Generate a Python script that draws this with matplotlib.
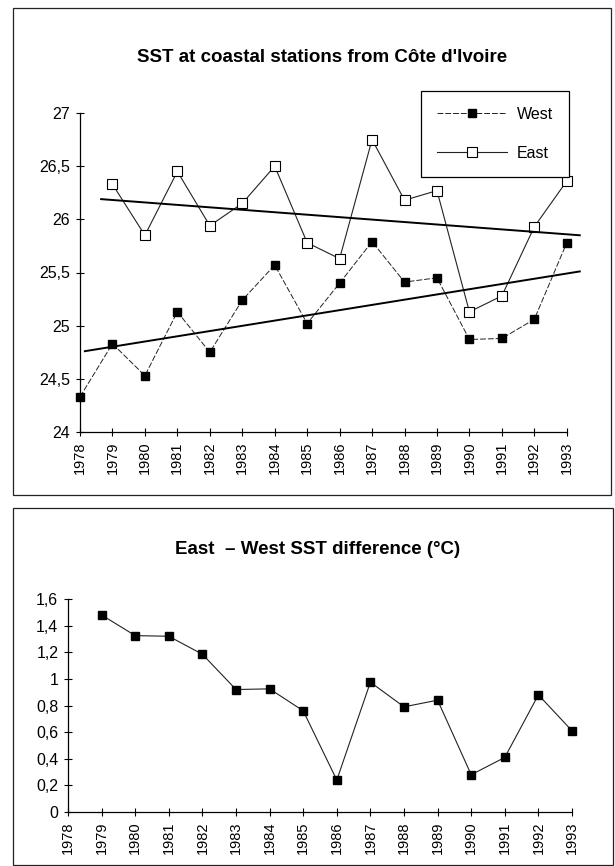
import numpy as np
import matplotlib.pyplot as plt
from matplotlib.patches import Rectangle
from matplotlib.ticker import FuncFormatter

plt.rcParams['font.family'] = ['Liberation Sans', 'DejaVu Sans']

# DATOS
years = list(range(1978, 1994))
west = [24.33, 24.83, 24.53, 25.13, 24.75, 25.24, 25.57, 25.02,
        25.40, 25.79, 25.41, 25.45, 24.87, 24.88, 25.06, 25.78]
east_years = list(range(1979, 1994))
east = [26.33, 25.85, 26.45, 25.94, 26.15, 26.50, 25.78, 25.63,
        26.75, 26.18, 26.27, 25.13, 25.28, 25.93, 26.36]
diff_years = list(range(1979, 1994))
diff = [1.48, 1.325, 1.32, 1.185, 0.92, 0.925, 0.76, 0.24,
        0.975, 0.79, 0.84, 0.28, 0.41, 0.88, 0.61]

# lineas de tendencia (extremos)
west_trend_x = [1978.15, 1993.4]
west_trend = [24.76, 25.51]
east_trend_x = [1978.65, 1993.4]
east_trend = [26.19, 25.85]

coma = FuncFormatter(lambda v, p: ('%g' % v).replace('.', ','))

fig = plt.figure(figsize=(6.15, 8.66), dpi=100)

# marcos de los dos paneles
fig.patches.append(Rectangle((13/615, 1-495/866), 598/615, 487/866, transform=fig.transFigure,
                             fill=False, lw=0.9, ec='#222222'))
fig.patches.append(Rectangle((13/615, 1-865/866), 600/615, 357/866, transform=fig.transFigure,
                             fill=False, lw=0.9, ec='#222222'))

def estilo(ax):
    ax.spines['top'].set_visible(False)
    ax.spines['right'].set_visible(False)
    ax.spines['left'].set_linewidth(0.9)
    ax.spines['bottom'].set_linewidth(0.9)
    ax.tick_params(direction='inout', length=6, width=0.8, pad=4)
    ax.tick_params(axis='y', labelsize=11.5)
    ax.tick_params(axis='x', labelsize=10.5)
    ax.set_xticks(years)
    ax.set_xticklabels([str(y) for y in years], rotation=90)
    ax.yaxis.set_major_formatter(coma)
    ax.patch.set_visible(False)

#################################################
# 1) SST EN ESTACIONES COSTERAS
ax1 = fig.add_axes([80/615, 1-432/866, 503/615, 319/866])
estilo(ax1)
ax1.plot(years, west, color='#222222', lw=0.7, ls=(0, (6, 2)), marker='s', ms=5.5,
         mfc='black', mec='black', label='West', clip_on=False)
ax1.plot(east_years, east, color='#222222', lw=0.8, marker='s', ms=6.5,
         mfc='white', mec='black', mew=0.8, label='East', clip_on=False)

ax1.plot(west_trend_x, west_trend, color='black', lw=1.4, clip_on=False)
ax1.plot(east_trend_x, east_trend, color='black', lw=1.4, clip_on=False)

ax1.set_xlim(1978, 1993.5)
ax1.set_ylim(24, 27)
ax1.set_yticks(np.arange(24, 27.01, 0.5))
ax1.spines['bottom'].set_bounds(1978, 1993)

leg = ax1.legend(loc='upper right', bbox_to_anchor=(569/615, 1-91/866),
                 bbox_transform=fig.transFigure, borderaxespad=0, fontsize=11.5,
                 handlelength=4.4, handletextpad=0.6, labelspacing=1.5, borderpad=1.0,
                 fancybox=False, framealpha=1, edgecolor='black', numpoints=1)
leg.get_frame().set_linewidth(0.9)

fig.text(322/615, 1-58/866, "SST at coastal stations from Côte d'Ivoire",
         ha='center', va='center', fontsize=13.5, fontweight='bold')

#################################################
# 2) DIFERENCIA ESTE - OESTE
ax2 = fig.add_axes([68/615, 1-812/866, 504/615, 213/866])
estilo(ax2)
ax2.plot(diff_years, diff, color='#222222', lw=0.8, marker='s', ms=5.5,
         mfc='black', mec='black', clip_on=False)
ax2.set_xlim(1978, 1993)
ax2.set_ylim(0, 1.6)
ax2.set_yticks(np.arange(0, 1.61, 0.2))

fig.text(318/615, 1-550/866, "East  \u2013 West SST difference (°C)",
         ha='center', va='center', fontsize=13.5, fontweight='bold')

plt.savefig('out.png', dpi=100)
